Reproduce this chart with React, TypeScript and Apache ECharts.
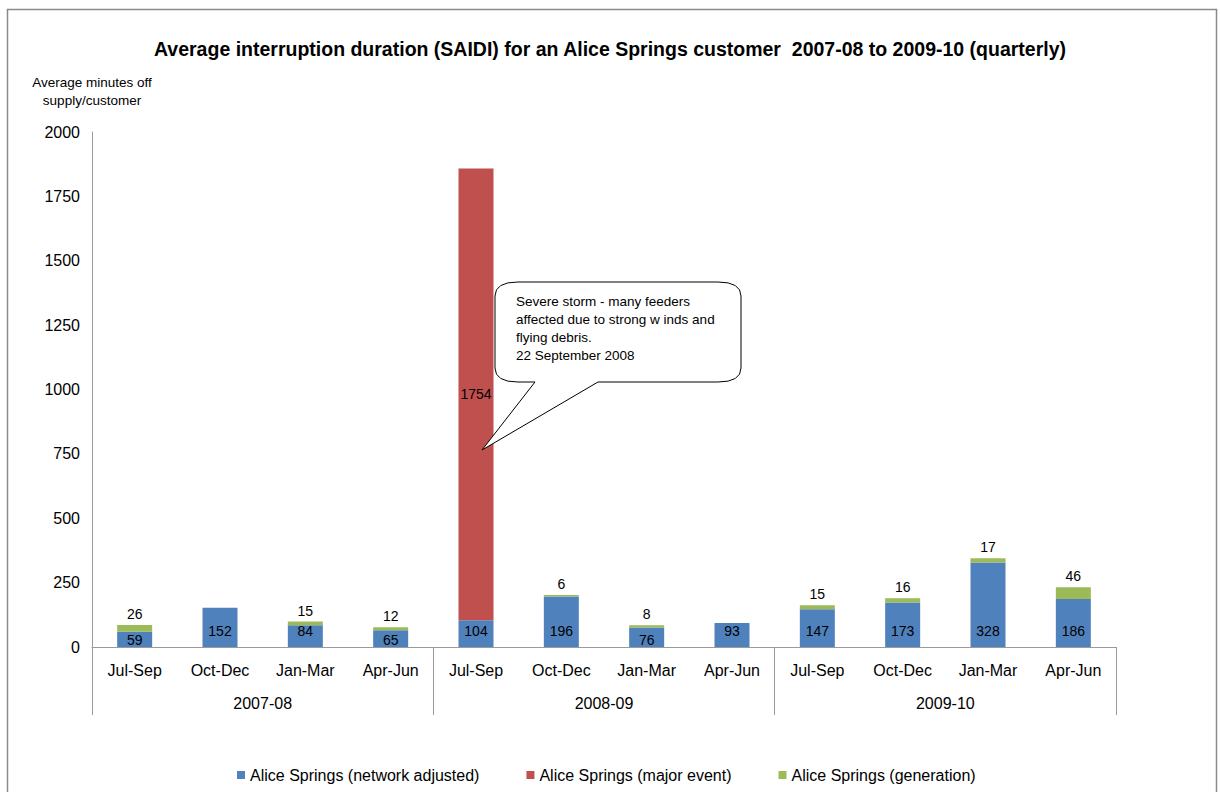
import React, { useEffect, useRef } from "react";
import * as echarts from "echarts";

const quarters = [
  "Jul-Sep", "Oct-Dec", "Jan-Mar", "Apr-Jun",
  "Jul-Sep", "Oct-Dec", "Jan-Mar", "Apr-Jun",
  "Jul-Sep", "Oct-Dec", "Jan-Mar", "Apr-Jun",
];
const years = ["2007-08", "2008-09", "2009-10"];
const networkAdjusted = [59, 152, 84, 65, 104, 196, 76, 93, 147, 173, 328, 186];
const majorEvent = [0, 0, 0, 0, 1754, 0, 0, 0, 0, 0, 0, 0];
const generation = [26, 0, 15, 12, 0, 6, 8, 0, 15, 16, 17, 46];
const seriesNames = [
  "Alice Springs (network adjusted)",
  "Alice Springs (major event)",
  "Alice Springs (generation)",
];
const calloutLines = [
  "Severe storm - many feeders",
  "affected due to strong w inds and",
  "flying debris.",
  "22 September 2008",
];

const FONT = "'Liberation Sans', Arial, sans-serif";
const AXIS_GRAY = "#9a9a9a";

const calloutPath =
  "M518,282 L718,282 Q741,282 741,296 L741,368 Q741,382 718,382 L598,382 L482,450 L535,382 L518,382 Q495,382 495,368 L495,296 Q495,282 518,282 Z";
echarts.graphic.registerShape("callout", echarts.graphic.extendPath(calloutPath, {}));

export default function App() {
  const ref = useRef<HTMLDivElement>(null);
  useEffect(() => {
    if (!ref.current) return;
    const chart = echarts.init(ref.current, undefined, { renderer: "svg" });
    chart.setOption({
      animation: false,
      backgroundColor: "#ffffff",
      textStyle: { fontFamily: FONT },
      title: {
        text: "Average interruption duration (SAIDI) for an Alice Springs customer  2007-08 to 2009-10 (quarterly)",
        left: "center",
        top: 34,
        textStyle: { fontSize: 19.5, fontWeight: "bold", color: "#000", fontFamily: FONT },
      },
      legend: {
        top: 762,
        left: 232,
        icon: "rect",
        itemWidth: 8,
        itemHeight: 8,
        itemGap: 47,
        textStyle: { fontSize: 16, color: "#000", fontFamily: FONT },
        data: seriesNames,
      },
      grid: { left: 92, right: 104, top: 132, bottom: 145, containLabel: false },
      xAxis: [
        {
          type: "category",
          data: quarters,
          position: "bottom",
          axisLine: { show: true, lineStyle: { color: AXIS_GRAY, width: 1 } },
          axisTick: { show: false },
          axisLabel: { fontSize: 16, color: "#000", margin: 15, fontFamily: FONT },
        },
        {
          type: "category",
          data: years,
          position: "bottom",
          axisLine: { show: false },
          axisTick: { show: true, length: 68, lineStyle: { color: AXIS_GRAY, width: 1 } },
          axisLabel: { fontSize: 16, color: "#000", margin: 48, fontFamily: FONT },
        },
      ],
      yAxis: {
        type: "value",
        min: 0,
        max: 2000,
        interval: 250,
        name: "Average minutes off\nsupply/customer",
        nameLocation: "end",
        nameGap: 23,
        nameTextStyle: {
          fontSize: 13.5,
          color: "#000",
          align: "center",
          lineHeight: 18,
          fontFamily: FONT,
        },
        axisLine: { show: true, lineStyle: { color: AXIS_GRAY, width: 1 } },
        axisTick: { show: false },
        splitLine: { show: false },
        axisLabel: {
          fontSize: 16,
          color: "#000",
          margin: 12,
          fontFamily: FONT,
          formatter: (v: number) => String(v),
        },
      },
      series: [
        {
          name: seriesNames[0],
          type: "bar",
          stack: "total",
          barWidth: 35,
          itemStyle: { color: "#4F81BD" },
          data: networkAdjusted.map((v) => ({
            value: v,
            label: { distance: v < 80 ? 0 : 9 },
          })),
          label: {
            show: true,
            position: "insideBottom",
            color: "#000",
            fontSize: 14,
            fontFamily: FONT,
          },
        },
        {
          name: seriesNames[1],
          type: "bar",
          stack: "total",
          barWidth: 35,
          itemStyle: { color: "#C0504D" },
          data: majorEvent,
          label: {
            show: true,
            position: "inside",
            color: "#000",
            fontSize: 14,
            fontFamily: FONT,
            formatter: (p: any) => (p.value ? String(p.value) : ""),
          },
        },
        {
          name: seriesNames[2],
          type: "bar",
          stack: "total",
          barWidth: 35,
          itemStyle: { color: "#9BBB59" },
          data: generation,
          label: {
            show: true,
            position: "top",
            distance: 4,
            color: "#000",
            fontSize: 14,
            fontFamily: FONT,
            formatter: (p: any) => (p.value ? String(p.value) : ""),
          },
        },
      ],
      graphic: [
        {
          type: "rect",
          shape: { x: 7.5, y: 9.5, width: 1209, height: 800 },
          style: { fill: "none", stroke: "#8a8a8a", lineWidth: 1.5 },
          silent: true,
        },
        {
          type: "callout",
          x: 0,
          y: 0,
          style: { fill: "#ffffff", stroke: "#000", lineWidth: 1 },
          z: 100,
        },
        {
          type: "text",
          x: 516,
          y: 292,
          z: 101,
          style: {
            text: calloutLines.join("\n"),
            fontSize: 13.5,
            lineHeight: 18,
            fill: "#000",
            fontFamily: FONT,
          },
        },
      ],
    });
    return () => chart.dispose();
  }, []);
  return (
    <div
      ref={ref}
      style={{ position: "absolute", left: 0, top: 0, width: 1220, height: 792 }}
    />
  );
}
